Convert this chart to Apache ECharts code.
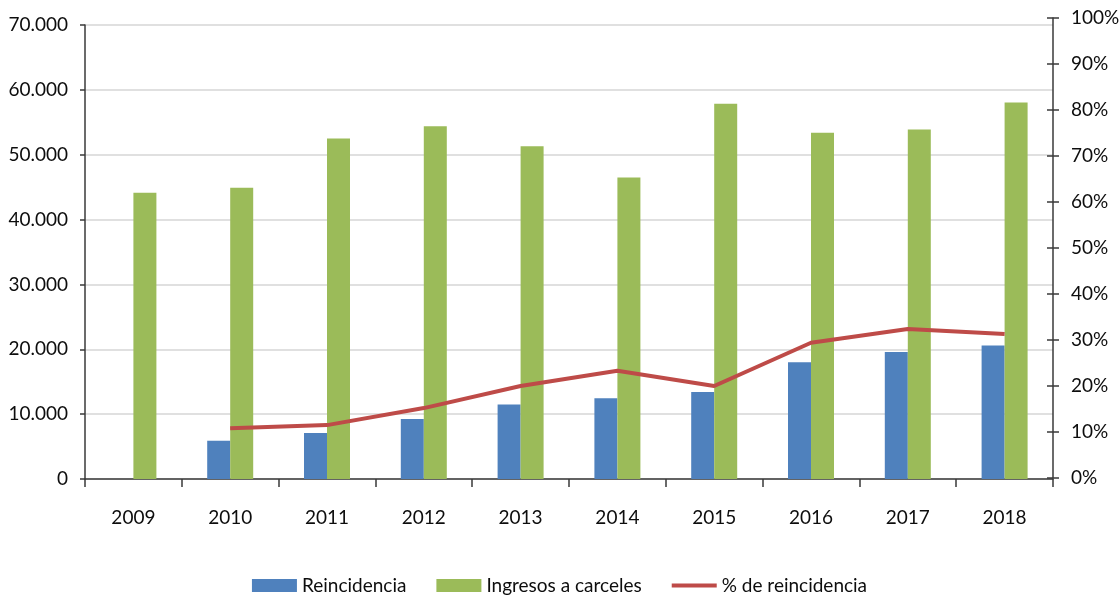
<!DOCTYPE html>
<html>
<head>
<meta charset="utf-8">
<script src="https://cdn.jsdelivr.net/npm/echarts@6/dist/echarts.min.js"></script>
<style>
  html, body { margin: 0; padding: 0; background: #fff; }
  #chart { width: 1119px; height: 600px; }
</style>
</head>
<body>
<div id="chart"></div>
<script>
// Years on the category axis
const years = ['2009', '2010', '2011', '2012', '2013', '2014', '2015', '2016', '2017', '2018'];
// Repeat offenders (left axis)
const reincidencia = [null, 5900, 7100, 9250, 11500, 12450, 13400, 18000, 19600, 20600];
// Prison admissions (left axis)
const ingresos = [44150, 44900, 52500, 54400, 51300, 46500, 57850, 53400, 53900, 58050];
// Reoffending rate in % (right axis)
const pctReincidencia = ['-', 10.8, 11.5, 15.2, 20.0, 23.3, 20.0, 29.4, 32.4, 31.3];
// Axis ticks
const leftTicks = { min: 0, max: 70000, interval: 10000 };
const rightTicks = { min: 0, max: 100, interval: 10 };

const FONT = 'Lato, "Open Sans", sans-serif';
const AXIS_COLOR = '#3a3a3a';
const TEXT_COLOR = '#0d0d0d';
const LINE_COLOR = '#BE4B48';

const chart = echarts.init(document.getElementById('chart'), null, { renderer: 'canvas' });

const fmtThousands = v => v === 0 ? '0' : String(v).replace(/\B(?=(\d{3})+(?!\d))/g, '.');

chart.setOption({
  animation: false,
  backgroundColor: '#fff',
  textStyle: { fontFamily: FONT },
  grid: [
    { left: 85, right: 66, top: 25, bottom: 121, containLabel: false, outerBoundsMode: 'none' },
    { left: 85, right: 66, top: 18, bottom: 122, containLabel: false, outerBoundsMode: 'none' }
  ],
  legend: {
    top: 571,
    left: 'center',
    itemWidth: 45,
    itemHeight: 13,
    itemGap: 30,
    textStyle: { fontFamily: FONT, fontSize: 19, color: TEXT_COLOR },
    data: [
      { name: 'Reincidencia', icon: 'rect' },
      { name: 'Ingresos a carceles', icon: 'rect' },
      { name: '% de reincidencia', icon: 'path://M0,0 L45,0 L45,4 L0,4 Z', itemStyle: { color: LINE_COLOR } }
    ]
  },
  xAxis: [
    {
      type: 'category',
      gridIndex: 0,
      data: years,
      boundaryGap: true,
      axisLine: { lineStyle: { color: AXIS_COLOR, width: 1.5 } },
      axisTick: { show: true, length: 8, lineStyle: { color: AXIS_COLOR, width: 1.5 } },
      axisLabel: { color: TEXT_COLOR, fontFamily: FONT, fontSize: 19, margin: 29 },
      splitLine: { show: false }
    },
    {
      type: 'category',
      gridIndex: 1,
      data: years,
      boundaryGap: true,
      show: false
    }
  ],
  yAxis: [
    {
      type: 'value',
      gridIndex: 0,
      position: 'left',
      min: leftTicks.min,
      max: leftTicks.max,
      interval: leftTicks.interval,
      axisLine: { show: true, lineStyle: { color: AXIS_COLOR, width: 1.5 } },
      axisTick: { show: true, length: 5, lineStyle: { color: AXIS_COLOR, width: 1.5 } },
      axisLabel: { color: TEXT_COLOR, fontFamily: FONT, fontSize: 19, margin: 17, formatter: fmtThousands },
      splitLine: { show: true, lineStyle: { color: '#d6d6d6', width: 1.5 } }
    },
    {
      type: 'value',
      gridIndex: 1,
      position: 'right',
      min: rightTicks.min,
      max: rightTicks.max,
      interval: rightTicks.interval,
      axisLine: { show: true, lineStyle: { color: AXIS_COLOR, width: 1.5 } },
      axisTick: { show: true, length: 6, lineStyle: { color: AXIS_COLOR, width: 1.5 } },
      axisLabel: { color: TEXT_COLOR, fontFamily: FONT, fontSize: 19, margin: 18, formatter: '{value}%' },
      splitLine: { show: false }
    },
    {
      // inner half of the crossing ticks on the right axis
      type: 'value',
      gridIndex: 1,
      position: 'right',
      min: rightTicks.min,
      max: rightTicks.max,
      interval: rightTicks.interval,
      axisLine: { show: false },
      axisTick: { show: true, inside: true, length: 6, lineStyle: { color: AXIS_COLOR, width: 1.5 } },
      axisLabel: { show: false },
      splitLine: { show: false }
    }
  ],
  series: [
    {
      name: 'Reincidencia',
      type: 'bar',
      xAxisIndex: 0,
      yAxisIndex: 0,
      data: reincidencia,
      barWidth: 23,
      barGap: '0%',
      itemStyle: { color: '#4F81BD' }
    },
    {
      name: 'Ingresos a carceles',
      type: 'bar',
      xAxisIndex: 0,
      yAxisIndex: 0,
      data: ingresos,
      barWidth: 23,
      barGap: '0%',
      itemStyle: { color: '#9BBB59' }
    },
    {
      name: '% de reincidencia',
      type: 'line',
      xAxisIndex: 1,
      yAxisIndex: 1,
      data: pctReincidencia,
      symbol: 'none',
      smooth: false,
      z: 5,
      lineStyle: { color: LINE_COLOR, width: 4 },
      itemStyle: { color: LINE_COLOR }
    }
  ]
});
</script>
</body>
</html>
